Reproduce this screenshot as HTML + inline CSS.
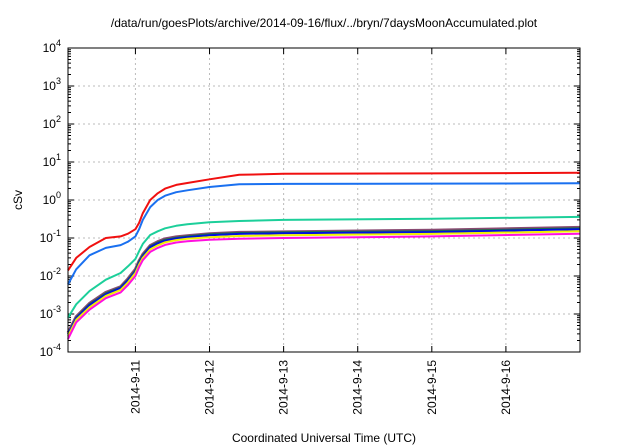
<!DOCTYPE html>
<html><head><meta charset="utf-8"><style>
html,body{margin:0;padding:0;background:#fff;width:640px;height:448px;overflow:hidden}
svg{font-family:"Liberation Sans",sans-serif;display:block}
</style></head><body>
<svg id="chart" width="640" height="448"></svg>
<script>
const xTickLabels=["2014-9-11","2014-9-12","2014-9-13","2014-9-14","2014-9-15","2014-9-16"];
const xTickDays=[1,2,3,4,5,6];
const yTickExps=[-4,-3,-2,-1,0,1,2,3,4];
const times=[0.09,0.2,0.38,0.6,0.8,0.9,1.0,1.05,1.1,1.2,1.3,1.4,1.55,1.7,2.0,2.4,3,5,7];
const redSeries=[0.014,0.03,0.058,0.1,0.11,0.13,0.17,0.25,0.45,1.0,1.5,2.0,2.5,2.8,3.5,4.6,4.9,5.0,5.2];
const blueSeries=[0.006,0.015,0.035,0.055,0.065,0.08,0.11,0.17,0.3,0.65,1.0,1.3,1.6,1.8,2.2,2.6,2.65,2.7,2.75];
const tealSeries=[0.0008,0.0018,0.004,0.008,0.012,0.018,0.028,0.045,0.07,0.12,0.15,0.18,0.21,0.23,0.26,0.28,0.3,0.32,0.36];
const purpleSeries=[0.00032,0.00085,0.0019,0.0037,0.0052,0.0085,0.015,0.025,0.037,0.063,0.08,0.095,0.107,0.115,0.13,0.14,0.145,0.16,0.19];
const greenSeries=[0.0003,0.0008,0.0018,0.0035,0.005,0.008,0.014,0.024,0.035,0.06,0.076,0.09,0.102,0.11,0.125,0.135,0.14,0.15,0.18];
const darkBlueSeries=[0.00029,0.00077,0.0017,0.0033,0.0048,0.0076,0.013,0.022,0.033,0.057,0.072,0.085,0.097,0.105,0.118,0.128,0.133,0.143,0.17];
const yellowSeries=[0.00026,0.0007,0.0015,0.003,0.0043,0.0068,0.012,0.02,0.03,0.05,0.064,0.077,0.088,0.095,0.105,0.113,0.118,0.128,0.15];
const magentaSeries=[0.00022,0.0006,0.0013,0.0026,0.0037,0.0058,0.01,0.017,0.026,0.043,0.055,0.066,0.076,0.082,0.09,0.095,0.1,0.11,0.13];
const series=[
 {name:"series-purple",color:"#8a4a72",data:purpleSeries,w:3},
 {name:"series-green",color:"#1a6e4a",data:greenSeries,w:2},
 {name:"series-dark-blue",color:"#0010e0",data:darkBlueSeries,w:2},
 {name:"series-yellow",color:"#f0f000",data:yellowSeries,w:2},
 {name:"series-magenta",color:"#ff10e0",data:magentaSeries,w:2},
 {name:"series-teal",color:"#1ccf9a",data:tealSeries,w:2},
 {name:"series-blue",color:"#1a70f0",data:blueSeries,w:2},
 {name:"series-red",color:"#f01010",data:redSeries,w:2}
];
const L=68,R=580,T=48,B=352,d0=0.09,d1=7.0;
const X=d=>L+(d-d0)/(d1-d0)*(R-L);
const Y=v=>B-(Math.log10(v)+4)/8*(B-T);
const NS="http://www.w3.org/2000/svg";
const svg=document.getElementById('chart');
function mk(tag,attrs,parent){const e=document.createElementNS(NS,tag);for(const k in attrs)e.setAttribute(k,attrs[k]);(parent||svg).appendChild(e);return e;}
let t=mk('text',{x:324,y:27,'text-anchor':'middle','font-size':12});


t.textContent="/data/run/goesPlots/archive/2014-09-16/flux/../bryn/7daysMoonAccumulated.plot";
yTickExps.forEach(e=>{const y=Y(Math.pow(10,e));
 if(e>-4&&e<4){let g=mk('line',{x1:L,x2:R,y1:y,y2:y,stroke:'#bbb','stroke-dasharray':'2,3','stroke-width':1});
 }
 let tk=mk('path',{d:`M${L},${y}h6M${R},${y}h-6`,stroke:'#000','stroke-width':1});
 
 let lb=mk('text',{x:L-7,y:y+4,'text-anchor':'end','font-size':12});
 
 lb.innerHTML=`10<tspan dy="-6" font-size="9">${e}</tspan>`;
 for(let k=2;k<10&&e<4;k++){const ym=Y(k*Math.pow(10,e));
  let m=mk('path',{d:`M${L},${ym}h3M${R},${ym}h-3`,stroke:'#000','stroke-width':1});
  }
});
xTickDays.forEach((d,i)=>{const x=X(d);
 let g=mk('line',{x1:x,x2:x,y1:T,y2:B,stroke:'#bbb','stroke-dasharray':'2,3','stroke-width':1});
 
 let tk=mk('path',{d:`M${x},${B}v-6M${x},${T}v6`,stroke:'#000','stroke-width':1});
 
 let lb=mk('text',{x:0,y:0,'text-anchor':'end','font-size':12,transform:`translate(${x+4},${B+8}) rotate(-90)`});
 
 lb.textContent=xTickLabels[i];
});
series.forEach(s=>{const d=times.map((tt,i)=>`${i?'L':'M'}${X(tt).toFixed(1)},${Y(s.data[i]).toFixed(1)}`).join('');
 let p=mk('path',{d:d,fill:'none',stroke:s.color,'stroke-width':s.w,'stroke-linejoin':'round'});
 
});
let f=mk('rect',{x:L,y:T,width:R-L,height:B-T,fill:'none',stroke:'#000','stroke-width':1});

let yt=mk('text',{x:0,y:0,'text-anchor':'middle','font-size':12,transform:'translate(22,200) rotate(-90)'});
yt.textContent="cSv";
let xt=mk('text',{x:324,y:442,'text-anchor':'middle','font-size':12});
xt.textContent="Coordinated Universal Time (UTC)";
</script>
</body></html>
